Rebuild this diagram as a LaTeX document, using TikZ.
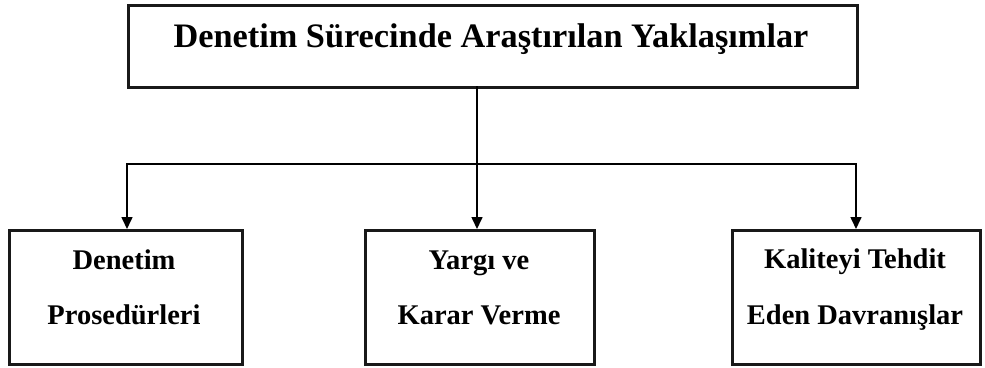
\documentclass[tikz,border=0pt]{standalone}
\usepackage{fontspec}
\setmainfont{Liberation Serif}
\usetikzlibrary{arrows.meta}
\begin{document}
\begin{tikzpicture}[x=1pt,y=-1pt,
  boxst/.style={draw=black!90,line width=2.8pt,inner sep=0pt,anchor=north west},
  txt/.style={anchor=base,inner sep=0pt,font=\bfseries\fontsize{28.5}{30}\selectfont},
  ttl/.style={anchor=base,inner sep=0pt,font=\bfseries\fontsize{34.3}{36}\selectfont},
  arr/.style={line width=1.6pt,-{Triangle[length=12pt,width=11pt]}},
  bus/.style={line width=2.8pt,line cap=rect}]
\useasboundingbox (0,0) rectangle (985,367);
% boxes
\node[boxst,minimum width=729pt,minimum height=82pt] (top) at (127,4) {};
\node[boxst,minimum width=233pt,minimum height=134pt] (left) at (8,229) {};
\node[boxst,minimum width=229pt,minimum height=134pt] (mid) at (364,229) {};
\node[boxst,minimum width=248pt,minimum height=134pt] (right) at (731,229) {};
% texts
\node[ttl] (t0) at (491,47) {Denetim Sürecinde Araştırılan Yaklaşımlar};
\node[txt] (l1) at (124,269) {Denetim};
\node[txt] (l2) at (124,324) {Prosedürleri};
\node[txt] (m1) at (479,269) {Yargı ve};
\node[txt] (m2) at (479,324) {Karar Verme};
\node[txt] (r1) at (855,268) {Kaliteyi Tehdit};
\node[txt] (r2) at (855,324) {Eden Davranışlar};
% connectors
\coordinate (bl) at (127,164);
\coordinate (br) at (856,164);
\coordinate (tm) at (477,86);
\draw[bus] (bl) -- (br);
\draw[arr] (bl) -- (bl |- left.north);
\draw[arr] (br) -- (br |- right.north);
\draw[arr] (tm) -- (tm |- mid.north);
\end{tikzpicture}
\end{document}
